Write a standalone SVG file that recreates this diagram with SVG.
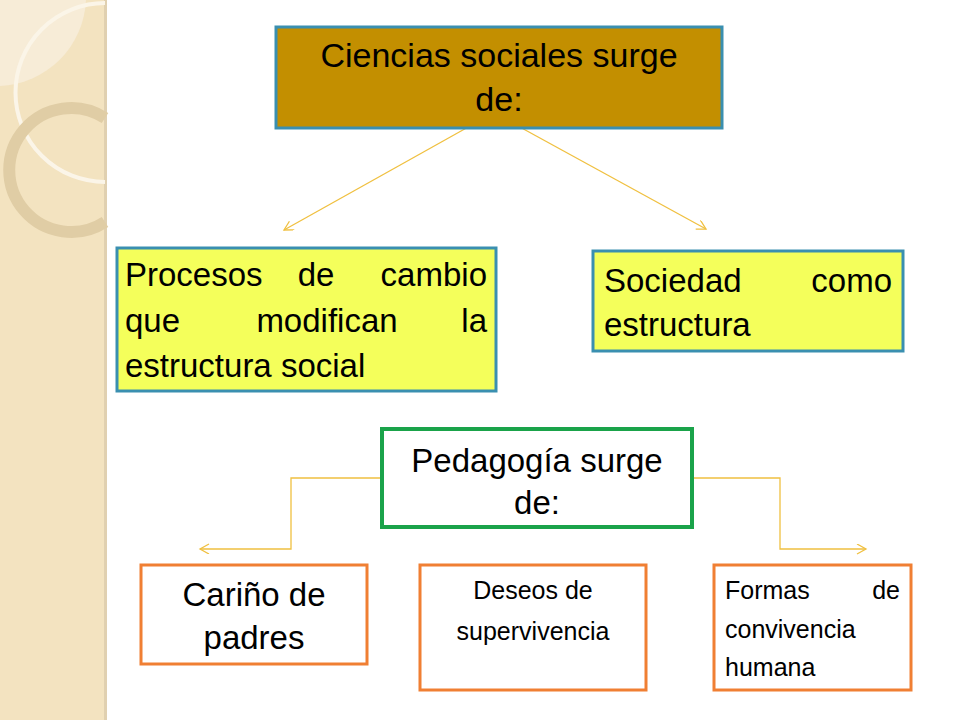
<svg xmlns="http://www.w3.org/2000/svg" width="960" height="720" viewBox="0 0 960 720">
<defs>
<style>
.t{font-family:"Liberation Sans",Arial,sans-serif;fill:#000}
.c{fill:none;stroke:#f0c040;stroke-width:1.3}
</style>
<marker id="a" markerWidth="12" markerHeight="12" refX="10" refY="5" orient="auto" markerUnits="userSpaceOnUse"><path d="M1,0 L10,5 L1,10" fill="none" stroke="#f0c040" stroke-width="1.3"/></marker>
</defs>
<rect width="960" height="720" fill="#fff"/>
<g id="deco">
<rect width="105" height="720" fill="#f3e3c0"/>
<rect x="104" width="3" height="720" fill="#e0d0b0"/>
<path d="M0,0 H86 A90,90 0 0 1 0,86 Z" fill="#f7eedc" opacity="0.8"/>
<path d="M105,3 A88,88 0 0 0 105,182" fill="none" stroke="#fbf5e8" stroke-width="4"/>
<path d="M105,118 A62,62 0 1 0 105,222" fill="none" stroke="#e0cda5" stroke-width="12"/>
</g>
<g id="connectors">
<line class="c" x1="470" y1="126" x2="284" y2="230" marker-end="url(#a)"/>
<line class="c" x1="518" y1="126" x2="706" y2="229" marker-end="url(#a)"/>
<polyline class="c" points="382,478 291,478 291,549 200,549" marker-end="url(#a)"/>
<polyline class="c" points="692,478 780,478 780,549 866,549" marker-end="url(#a)"/>
</g>
<g id="n1">
<rect x="276" y="27" width="446" height="101" fill="#c38f00" stroke="#3a8fb0" stroke-width="3"/>
<text class="t" font-size="34" text-anchor="middle"><tspan x="499" y="67">Ciencias sociales surge</tspan><tspan x="499" y="111">de:</tspan></text>
</g>
<g id="n2">
<rect x="117" y="248" width="379" height="143" fill="#f4ff5b" stroke="#3a8fb0" stroke-width="3"/>
<text class="t" font-size="33"><tspan x="125" y="286">Procesos</tspan><tspan x="316" y="286" text-anchor="middle">de</tspan><tspan x="487" y="286" text-anchor="end">cambio</tspan><tspan x="125" y="332">que</tspan><tspan x="327" y="332" text-anchor="middle">modifican</tspan><tspan x="487" y="332" text-anchor="end">la</tspan><tspan x="125" y="377">estructura social</tspan></text>
</g>
<g id="n3">
<rect x="593" y="251" width="310" height="100" fill="#f4ff5b" stroke="#3a8fb0" stroke-width="3"/>
<text class="t" font-size="33"><tspan x="604" y="292">Sociedad</tspan><tspan x="892" y="292" text-anchor="end">como</tspan><tspan x="604" y="336">estructura</tspan></text>
</g>
<g id="n4">
<rect x="382" y="429" width="310" height="98" fill="#fff" stroke="#1aa34a" stroke-width="4"/>
<text class="t" font-size="33" text-anchor="middle"><tspan x="537" y="472">Pedagogía surge</tspan><tspan x="537" y="514">de:</tspan></text>
</g>
<g id="n5">
<rect x="141" y="565" width="226" height="99" fill="#fff" stroke="#f07f33" stroke-width="3"/>
<text class="t" font-size="33" text-anchor="middle"><tspan x="254" y="606">Cariño de</tspan><tspan x="254" y="649">padres</tspan></text>
</g>
<g id="n6">
<rect x="420" y="565" width="226" height="125" fill="#fff" stroke="#f07f33" stroke-width="3"/>
<text class="t" font-size="25" text-anchor="middle"><tspan x="533" y="599">Deseos de</tspan><tspan x="533" y="640">supervivencia</tspan></text>
</g>
<g id="n7">
<rect x="714" y="565" width="197" height="125" fill="#fff" stroke="#f07f33" stroke-width="3"/>
<text class="t" font-size="25"><tspan x="725" y="599">Formas</tspan><tspan x="900" y="599" text-anchor="end">de</tspan><tspan x="725" y="638">convivencia</tspan><tspan x="725" y="676">humana</tspan></text>
</g>
</svg>
